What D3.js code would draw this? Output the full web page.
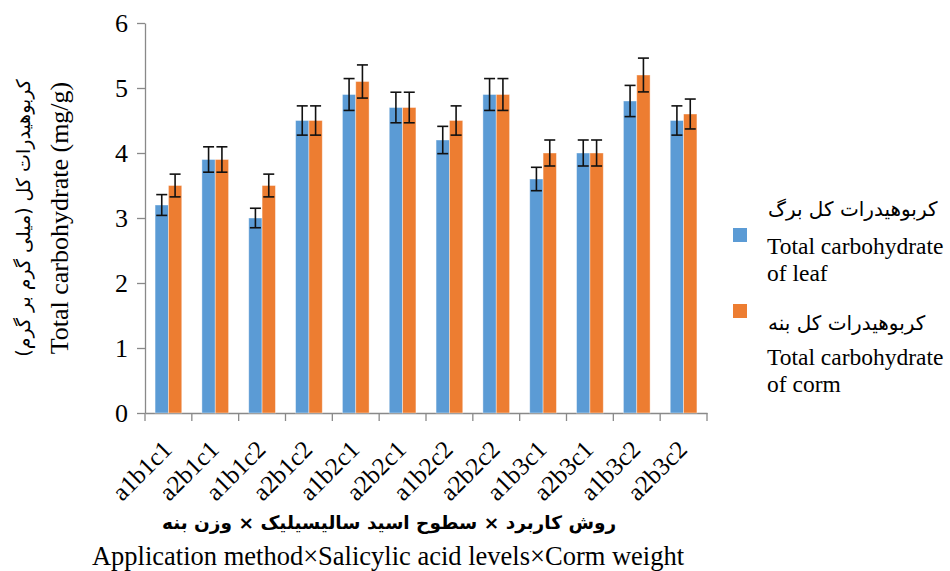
<!DOCTYPE html>
<html>
<head>
<meta charset="utf-8">
<script src="https://cdn.jsdelivr.net/npm/d3@7"></script>
<style>
  body { margin: 0; background: #fff; }
  svg { display: block; }
  .axis path, .axis line { stroke: #898989; stroke-width: 1.3; }
</style>
</head>
<body>
<div id="chart"></div>
<script>
// data
const categories = ['a1b1c1', 'a2b1c1', 'a1b1c2', 'a2b1c2', 'a1b2c1', 'a2b2c1',
                    'a1b2c2', 'a2b2c2', 'a1b3c1', 'a2b3c1', 'a1b3c2', 'a2b3c2'];
const leafValues = [3.2, 3.9, 3.0, 4.5, 4.9, 4.7, 4.2, 4.9, 3.6, 4.0, 4.8, 4.5];
const cormValues = [3.5, 3.9, 3.5, 4.5, 5.1, 4.7, 4.5, 4.9, 4.0, 4.0, 5.2, 4.6];
const leafErrors = [0.16, 0.195, 0.15, 0.225, 0.245, 0.235, 0.21, 0.245, 0.18, 0.2, 0.24, 0.225];
const cormErrors = [0.175, 0.195, 0.175, 0.225, 0.255, 0.235, 0.225, 0.245, 0.2, 0.2, 0.26, 0.23];
const yTicks = [0, 1, 2, 3, 4, 5, 6];
const seriesKeys = ['leaf', 'corm'];
const seriesColors = ['#5B9BD5', '#ED7D31'];

const SERIF = '"Liberation Serif", "Times New Roman", "DejaVu Serif", serif';
const FA = '"DejaVu Sans", "Liberation Serif", sans-serif';

const width = 950, height = 571;
const margin = { top: 23, right: 243, bottom: 158, left: 145 };

const svg = d3.select('#chart').append('svg')
  .attr('width', width)
  .attr('height', height);

const rows = categories.map((c, i) => ({
  name: c,
  leaf: leafValues[i], leafErr: leafErrors[i],
  corm: cormValues[i], cormErr: cormErrors[i]
}));

const x0 = d3.scaleBand()
  .domain(categories)
  .range([margin.left, width - margin.right])
  .paddingInner(0.43)
  .paddingOuter(0.215);
const x1 = d3.scaleBand().domain(seriesKeys).range([0, x0.bandwidth()]);
const y = d3.scaleLinear().domain([0, 6]).range([height - margin.bottom, margin.top]);
const color = d3.scaleOrdinal().domain(seriesKeys).range(seriesColors);

// y axis
const yAxis = svg.append('g')
  .attr('class', 'axis')
  .attr('transform', `translate(${margin.left},0)`)
  .call(d3.axisLeft(y).tickValues(yTicks).tickFormat(d3.format('d'))
    .tickSize(8).tickSizeOuter(0).tickPadding(9));
yAxis.selectAll('text')
  .style('font-family', SERIF)
  .style('font-size', '26px')
  .attr('fill', '#000')
  .attr('dy', '0.34em');

// x axis line, ticks sit between categories
const xAxis = svg.append('g')
  .attr('class', 'axis')
  .attr('transform', `translate(0,${y(0)})`)
  .call(d3.axisBottom(x0).tickSize(0).tickSizeOuter(0).tickFormat(''));
const step = x0.step();
const bounds = categories.map(c => x0(c) - step * x0.paddingInner() / 2).concat([x0.range()[1]]);
xAxis.selectAll('.sep')
  .data(bounds)
  .enter().append('line')
  .attr('class', 'sep')
  .attr('x1', d => d).attr('x2', d => d)
  .attr('y1', 0).attr('y2', 8);

// bars
const groups = svg.append('g').attr('class', 'bars')
  .selectAll('g')
  .data(rows)
  .enter().append('g')
  .attr('transform', d => `translate(${x0(d.name)},0)`);

groups.selectAll('rect')
  .data(d => seriesKeys.map(k => ({ key: k, value: d[k], err: d[k + 'Err'] })))
  .enter().append('rect')
  .attr('x', d => x1(d.key))
  .attr('y', d => y(d.value))
  .attr('width', x1.bandwidth())
  .attr('height', d => y(0) - y(d.value))
  .attr('fill', d => color(d.key))
  .attr('stroke', '#fff')
  .attr('stroke-opacity', 0.5)
  .attr('stroke-width', 0.8);

// error bars
const capHalf = 5.5;
const errs = groups.selectAll('g.err')
  .data(d => seriesKeys.map(k => ({ key: k, value: d[k], err: d[k + 'Err'] })))
  .enter().append('g')
  .attr('class', 'err')
  .attr('stroke', '#111')
  .attr('stroke-width', 1.6);
errs.append('line')
  .attr('x1', d => x1(d.key) + x1.bandwidth() / 2)
  .attr('x2', d => x1(d.key) + x1.bandwidth() / 2)
  .attr('y1', d => y(d.value - d.err))
  .attr('y2', d => y(d.value + d.err));
errs.selectAll('line.cap')
  .data(d => [d.value - d.err, d.value + d.err].map(v => ({ key: d.key, v })))
  .enter().append('line')
  .attr('class', 'cap')
  .attr('x1', d => x1(d.key) + x1.bandwidth() / 2 - capHalf)
  .attr('x2', d => x1(d.key) + x1.bandwidth() / 2 + capHalf)
  .attr('y1', d => y(d.v))
  .attr('y2', d => y(d.v));

// rotated category labels
svg.append('g').selectAll('text')
  .data(categories)
  .enter().append('text')
  .style('font-family', SERIF)
  .style('font-size', '25px')
  .attr('text-anchor', 'end')
  .attr('transform', d => `translate(${x0(d) + x0.bandwidth() / 2 + 5},${y(0) + 38}) rotate(-45)`)
  .text(d => d);

// axis titles
svg.append('text')
  .attr('x', 389).attr('y', 529)
  .attr('text-anchor', 'middle')
  .attr('direction', 'rtl')
  .style('font-family', FA)
  .style('font-size', '18.5px')
  .style('font-weight', 'bold')
  .text('روش کاربرد × سطوح اسید سالیسیلیک × وزن بنه');
svg.append('text')
  .attr('x', 388).attr('y', 565)
  .attr('text-anchor', 'middle')
  .style('font-family', SERIF)
  .style('font-size', '26.5px')
  .text('Application method×Salicylic acid levels×Corm weight');

const yMid = (y(0) + y(6)) / 2;
svg.append('text')
  .attr('transform', `translate(30,${yMid}) rotate(-90)`)
  .attr('text-anchor', 'middle')
  .attr('direction', 'rtl')
  .style('font-family', FA)
  .style('font-size', '19px')
  .text('کربوهیدرات کل (میلی گرم بر گرم)');
svg.append('text')
  .attr('transform', `translate(68,${yMid}) rotate(-90)`)
  .attr('text-anchor', 'middle')
  .style('font-family', SERIF)
  .style('font-size', '26px')
  .text('Total carbohydrate (mg/g)');

// legend
const legendItems = [
  { key: 'leaf', fa: 'کربوهیدرات کل برگ', en: ['Total carbohydrate', 'of leaf'], sq: 228, fy: 216, ey: 254 },
  { key: 'corm', fa: 'کربوهیدرات کل بنه', en: ['Total carbohydrate', 'of corm'], sq: 304, fy: 330, ey: 365 }
];
const legend = svg.append('g').attr('class', 'legend');
legendItems.forEach(it => {
  legend.append('rect')
    .attr('x', 733).attr('y', it.sq)
    .attr('width', 14).attr('height', 14)
    .attr('fill', color(it.key));
  legend.append('text')
    .attr('x', 768).attr('y', it.fy)
    .attr('direction', 'rtl')
    .attr('text-anchor', 'end')
    .style('font-family', FA)
    .style('font-size', '20px')
    .text(it.fa);
  it.en.forEach((line, j) => {
    legend.append('text')
      .attr('x', 767).attr('y', it.ey + j * 27)
      .style('font-family', SERIF)
      .style('font-size', '23.5px')
      .text(line);
  });
});
</script>
</body>
</html>
